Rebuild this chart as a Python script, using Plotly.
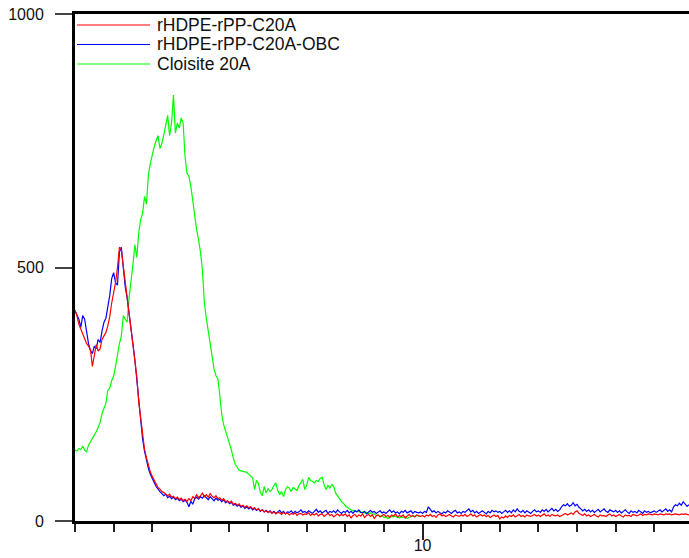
import plotly.graph_objects as go

# ---------------- data (2-theta grid starts at 1.0, step 0.05) ----------------
x_start = 1.0
x_step = 0.05

red_c20a = [
    416, 405, 388, 378, 368, 360, 350, 345, 338, 305, 330, 348, 335, 340, 358, 366, 372, 385, 403, 430,
    450, 470, 500, 540, 535, 505, 470, 445, 415, 385, 355, 320, 285, 235, 200, 165, 142, 125, 108, 97,
    88, 80, 73, 66, 63, 58, 56, 52, 50, 53, 47, 49, 44, 47, 42, 45, 40, 43, 39, 44,
    40, 48, 45, 52, 46, 50, 55, 48, 52, 47, 54, 49, 46, 50, 44, 46, 41, 44, 38, 40,
    36, 39, 33, 35, 31, 34, 29, 31, 27, 30, 26, 28, 24, 26, 22, 24, 20, 22, 18, 20,
    17, 19, 15, 18, 14, 17, 16, 13, 17, 14, 16, 12, 15, 13, 16, 11, 14, 15, 12, 14,
    13, 16, 11, 14, 12, 15, 10, 13, 14, 9, 12, 15, 11, 13, 8, 12, 14, 10, 13, 11,
    14, 9, 12, 6, 11, 13, 8, 12, 10, 14, 7, 11, 13, 9, 12, 5, 10, 12, 8, 11,
    13, 9, 11, 7, 12, 10, 14, 8, 11, 9, 12, 6, 10, 13, 9, 11, 8, 12, 10, 9,
    11, 8, 12, 10, 13, 9, 11, 7, 12, 14, 10, 12, 9, 11, 13, 10, 8, 12, 11, 9,
    12, 10, 13, 9, 11, 14, 10, 12, 8, 11, 13, 10, 12, 9, 11, 7, 10, 12, 9, 11,
    4, 8, 6, 10, 7, 11, 9, 12, 8, 10, 13, 9, 11, 8, 12, 10, 9, 11, 13, 10,
    12, 9, 11, 14, 10, 12, 9, 13, 11, 10, 12, 9, 11, 13, 15, 12, 14, 16, 13, 18,
    20, 15, 13, 11, 14, 10, 12, 9, 11, 13, 10, 8, 12, 10, 11, 9, 12, 14, 10, 12,
    9, 11, 13, 10, 8, 12, 10, 11, 9, 13, 11, 10, 12, 14, 11, 13, 12, 14, 13, 12,
    14, 13, 12, 14, 13, 12, 14, 13, 14, 12, 13, 14, 13, 12, 14, 13, 14, 13, 12,
]

blue_c20a_obc = [
    415, 408, 398, 382, 405, 398, 372, 350, 336, 330, 345, 340, 358, 352, 375, 392, 400, 420, 445, 478,
    490, 470, 465, 530, 540, 500, 462, 440, 412, 388, 350, 318, 280, 232, 195, 162, 138, 120, 104, 92,
    82, 76, 68, 62, 58, 54, 50, 53, 46, 49, 44, 47, 42, 45, 40, 43, 38, 41, 37, 28,
    39, 33, 44, 47, 43, 48, 45, 50, 46, 42, 48, 44, 40, 45, 41, 43, 38, 42, 36, 39,
    34, 37, 31, 33, 29, 32, 27, 30, 25, 28, 24, 27, 22, 25, 21, 24, 19, 22, 18, 21,
    17, 20, 16, 19, 15, 18, 21, 16, 19, 14, 18, 17, 20, 15, 19, 16, 18, 22, 17, 19,
    16, 20, 18, 15, 19, 23, 17, 20, 16, 18, 21, 15, 19, 17, 20, 16, 22, 18, 15, 19,
    17, 21, 16, 19, 15, 20, 18, 22, 17, 16, 19, 14, 18, 21, 17, 19, 15, 18, 20, 16,
    18, 15, 19, 22, 17, 20, 16, 18, 14, 19, 17, 21, 16, 18, 20, 15, 19, 17, 16, 18,
    15, 19, 17, 28, 22, 18, 20, 16, 19, 17, 14, 18, 16, 20, 17, 15, 19, 21, 16, 18,
    15, 19, 17, 20, 24, 18, 21, 16, 19, 15, 18, 20, 17, 14, 19, 16, 21, 18, 20, 17,
    19, 15, 18, 21, 17, 20, 16, 22, 18, 24, 19, 17, 21, 16, 20, 18, 15, 19, 22, 18,
    20, 17, 22, 19, 23, 18, 21, 25, 20, 23, 19, 22, 28, 32, 30, 34, 29, 31, 36, 30,
    33, 27, 24, 20, 23, 19, 22, 18, 21, 17, 20, 23, 18, 21, 24, 19, 17, 22, 20, 18,
    21, 17, 20, 16, 19, 22, 18, 15, 20, 17, 19, 16, 21, 18, 15, 20, 17, 19, 16, 18,
    20, 17, 19, 22, 18, 21, 24, 19, 22, 18, 28, 32, 30, 35, 31, 38, 33, 29, 32,
]

green_cloisite = [
    140, 138, 143, 141, 148, 140, 136, 150, 156, 162, 170, 176, 185, 194, 212, 222, 232, 258, 262, 277,
    286, 305, 330, 350, 365, 405, 398, 392, 440, 470, 505, 545, 520, 568, 595, 607, 640, 625, 682, 705,
    725, 738, 750, 760, 735, 745, 762, 780, 800, 760, 785, 840, 765, 785, 775, 795, 785, 718, 686, 680,
    660, 632, 600, 574, 555, 530, 495, 430, 400, 375, 355, 330, 300, 287, 280, 248, 210, 190, 178, 165,
    155, 140, 124, 112, 106, 100, 99, 98, 97, 96, 92, 88, 85, 62, 80, 74, 56, 50, 68, 55,
    64, 58, 62, 70, 75, 60, 52, 58, 48, 62, 68, 65, 58, 66, 62, 60, 70, 76, 82, 62,
    70, 86, 80, 78, 75, 80, 78, 84, 86, 72, 62, 70, 65, 72, 68, 55, 48, 44, 38, 35,
    30, 26, 24, 22, 20, 21, 18, 19, 17, 18, 16, 17, 15, 16, 13, 14, 11, 12, 9, 10,
    7, 8, 5, 7, 9, 8, 10, 7, 6, 8, 7, 9, 5, 7, 8, 10, 9, 11, 10, 9,
]

series_names = ["rHDPE-rPP-C20A", "rHDPE-rPP-C20A-OBC", "Cloisite 20A"]
series_colors = ["#ff0000", "#0000ff", "#00ff00"]
y_tick_vals = [0, 500, 1000]
y_tick_text = ["0", "500", "1000"]
x_range = [1.0, 16.9]
y_range = [0, 1000]


def grid(values):
    return [round(x_start + x_step * i, 3) for i in range(len(values))]


# ---------------- figure ----------------
W, H = 689, 558
ML, MR, MT, MB = 75, 0, 14, 37
PW, PH = W - ML - MR, H - MT - MB

fig = go.Figure()
data_sets = [red_c20a, blue_c20a_obc, green_cloisite]
draw_order = [2, 1, 0]
for k in draw_order:
    fig.add_trace(go.Scatter(
        x=grid(data_sets[k]), y=data_sets[k], mode="lines",
        line=dict(color=series_colors[k], width=1.2),
        name=series_names[k], showlegend=False, hoverinfo="skip",
    ))


def px_x(p):
    return (p - ML) / PW


def px_y(q):
    return (H - MB - q) / PH


# manual legend (long line samples like the original)
legend_rows_y = [25, 44.5, 64]
shapes = []
annotations = []
for name, col, ry in zip(series_names, series_colors, legend_rows_y):
    shapes.append(dict(type="line", xref="paper", yref="paper",
                       x0=px_x(77), x1=px_x(150), y0=px_y(ry), y1=px_y(ry),
                       line=dict(color=col, width=1.2)))
    annotations.append(dict(xref="paper", yref="paper", x=px_x(155), y=px_y(ry),
                            text=name, showarrow=False, xanchor="left", yanchor="middle",
                            font=dict(family="Liberation Sans, Arial", size=17.5, color="#111111")))

fig.update_layout(
    width=W, height=H,
    margin=dict(l=ML, r=MR, t=MT, b=MB, pad=0, autoexpand=False),
    paper_bgcolor="white", plot_bgcolor="white",
    showlegend=False,
    shapes=shapes, annotations=annotations,
    font=dict(family="Liberation Sans, Arial", size=16, color="#111111"),
)

fig.update_xaxes(
    range=x_range, showgrid=False, zeroline=False, automargin=False,
    showline=True, linecolor="black", linewidth=3, mirror=True,
    tickmode="linear", tick0=0, dtick=10,
    ticks="outside", ticklen=16, tickwidth=2, tickcolor="#222222",
    minor=dict(tickmode="linear", tick0=0, dtick=1, ticks="outside", ticklen=8,
               tickwidth=2, tickcolor="#222222", showgrid=False),
    ticklabelstandoff=-8,
    tickfont=dict(size=16, color="#111111"),
)
fig.update_yaxes(
    range=y_range, showgrid=False, zeroline=False, automargin=False,
    showline=True, linecolor="black", linewidth=3,
    tickmode="array", tickvals=y_tick_vals, ticktext=y_tick_text,
    ticks="outside", ticklen=17, tickwidth=2, tickcolor="#444444",
    ticklabelstandoff=8,
    tickfont=dict(size=16, color="#111111"),
)

fig.write_html("out.html")
